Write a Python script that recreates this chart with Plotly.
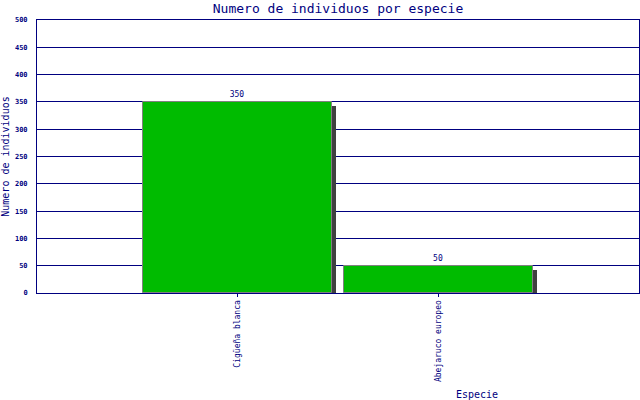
import plotly.graph_objects as go

categories = ["Cigüeña blanca", "Abejaruco europeo"]
values = [350, 50]
y_ticks = [0, 50, 100, 150, 200, 250, 300, 350, 400, 450, 500]

NAVY = "#000080"
FONT = "DejaVu Sans Mono"
xpos = list(range(len(categories)))

fig = go.Figure()
# drop shadow
fig.add_trace(go.Bar(
    x=xpos, y=values, base=[-7.5] * len(values), width=0.94, offset=-0.47 + 0.022,
    marker=dict(color="#404040", line=dict(width=0)), hoverinfo="skip", showlegend=False,
))
fig.add_trace(go.Bar(
    x=xpos, y=values, width=0.94, offset=-0.47,
    marker=dict(color="#00BB00", line=dict(color="#808080", width=1)),
    text=[str(v) for v in values], textposition="outside",
    textfont=dict(family=FONT, size=8, color=NAVY), cliponaxis=False,
    showlegend=False,
))

fig.update_layout(
    width=640, height=400,
    margin=dict(l=37, r=1, t=20, b=107, autoexpand=False),
    paper_bgcolor="white", plot_bgcolor="white",
    barmode="overlay", bargap=0,
    title=dict(text="Numero de individuos por especie", xref="paper", x=0.5, xanchor="center",
               y=0.978, yanchor="middle", automargin=False,
               font=dict(family=FONT, size=13, color=NAVY)),
    xaxis=dict(range=[-1, 2], tickmode="array", tickvals=xpos, ticktext=categories,
               tickangle=-90, tickfont=dict(family=FONT, size=8, color=NAVY),
               showgrid=False, zeroline=False, showline=True, linecolor=NAVY, linewidth=1,
               mirror=True, ticks="outside", ticklen=3, tickcolor=NAVY, automargin=False),
    yaxis=dict(range=[0, 500], tickmode="array", tickvals=y_ticks,
               ticktext=["<b>%d</b>" % v for v in y_ticks],
               tickfont=dict(family=FONT, size=7, color=NAVY),
               showgrid=True, gridcolor=NAVY, gridwidth=1, zeroline=False,
               showline=True, linecolor=NAVY, linewidth=1, mirror=True,
               ticks="", ticklabelstandoff=7, automargin=False,
               title=dict(text="Numero de individuos", standoff=9,
                          font=dict(family=FONT, size=10, color=NAVY))),
    annotations=[dict(text="Especie", xref="paper", yref="paper", x=0.731, y=-0.372,
                      xanchor="center", yanchor="middle", showarrow=False,
                      font=dict(family=FONT, size=10, color=NAVY))],
)

fig.write_html(
    "out.html",
    config={"responsive": False, "displayModeBar": False},
    post_script="document.body.style.margin='0';document.body.style.overflow='hidden';",
)
